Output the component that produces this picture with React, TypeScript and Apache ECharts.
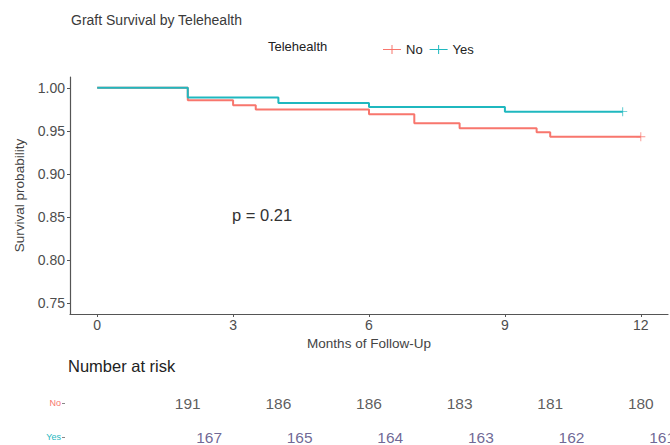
import React, { useEffect, useRef } from "react";
import * as echarts from "echarts";

const TITLE = "Graft Survival by Telehealth";
const GROUPS = ["No", "Yes"];

const noTimes = [0, 2, 3, 3.5, 6, 7, 8, 9.7, 10, 12];
const noSurv = [1.0, 0.9856, 0.9798, 0.9748, 0.9694, 0.9587, 0.9529, 0.9483, 0.9432, 0.9432];
const yesTimes = [0, 2, 4, 6, 9, 11.6];
const yesSurv = [1.0, 0.9887, 0.9824, 0.9778, 0.9723, 0.9723];

const noCensor = [12];
const yesCensor = [11.6];

const xTicks = [0, 3, 6, 9, 12];
const yTicks = [0.75, 0.8, 0.85, 0.9, 0.95, 1.0];

const riskTimes = [2, 4, 6, 8, 10, 12];
const riskNo = [191, 186, 186, 183, 181, 180];
const riskYes = [167, 165, 164, 163, 162, 161];

const PVAL = "p = 0.21";

const RED = "#F8766D";
const TEAL = "#1FB8BF";
const FONT = "Liberation Sans, Arial, sans-serif";
const YES_SHIFT = 0.47;

function survAt(times: number[], surv: number[], t: number) {
  let s = surv[0];
  for (let i = 0; i < times.length; i++) if (times[i] <= t) s = surv[i];
  return s;
}

const plusIcon = "path://M0,9h36v2h-36z M17,1h2v18h-2z";
const plusMark = "path://M0,4.5h10v1h-10z M4.5,0h1v10h-1z";

export default function App() {
  const ref = useRef<HTMLDivElement>(null);
  useEffect(() => {
    if (!ref.current) return;
    const chart = echarts.init(ref.current, undefined, { renderer: "svg" });
    const option: any = {
      animation: false,
      backgroundColor: "#ffffff",
      textStyle: { fontFamily: FONT },
      title: {
        text: TITLE,
        left: 66,
        top: 8,
        textStyle: { fontSize: 14, fontWeight: "normal", color: "#3a3a3a", fontFamily: FONT },
      },
      legend: {
        data: GROUPS,
        left: 378,
        top: 38,
        itemWidth: 18,
        itemHeight: 10,
        itemGap: 7,
        icon: plusIcon,
        textStyle: { fontSize: 13, color: "#222", fontFamily: FONT },
      },
      graphic: [
        {
          type: "text",
          left: 268,
          top: 40,
          style: { text: "Telehealth", fontSize: 13, fill: "#222", fontFamily: FONT },
        },
        {
          type: "text",
          left: 232,
          top: 206,
          style: { text: PVAL, fontSize: 16.5, fill: "#333", fontFamily: FONT },
        },
        {
          type: "text",
          left: 68,
          top: 357,
          style: { text: "Number at risk", fontSize: 16.5, fill: "#222", fontFamily: FONT },
        },
      ],
      grid: [
        { left: 70, right: 2, top: 77, bottom: 131 },
        { left: 70, right: 2, top: 403, bottom: 8 },
      ],
      xAxis: [
        {
          gridIndex: 0,
          type: "value",
          min: -0.6,
          max: 12.6,
          name: "Months of Follow-Up",
          nameLocation: "middle",
          nameGap: 19,
          nameTextStyle: { fontSize: 13.5, color: "#444", fontFamily: FONT },
          axisLine: { show: true, onZero: false, lineStyle: { color: "#555", width: 1.2 } },
          axisTick: { show: true, length: 3, customValues: xTicks, lineStyle: { color: "#555" } },
          axisLabel: { customValues: xTicks, fontSize: 14, color: "#4d4d4d", margin: 4 },
          splitLine: { show: false },
        },
        {
          gridIndex: 1,
          type: "value",
          min: -0.6,
          max: 12.6,
          show: false,
          axisLine: { onZero: false },
        },
      ],
      yAxis: [
        {
          gridIndex: 0,
          type: "value",
          min: 0.7375,
          max: 1.0125,
          name: "Survival probability",
          nameLocation: "middle",
          nameGap: 40,
          nameTextStyle: { fontSize: 13.5, color: "#444", fontFamily: FONT },
          axisLine: { show: true, onZero: false, lineStyle: { color: "#555", width: 1.2 } },
          axisTick: { show: true, length: 3, customValues: yTicks, lineStyle: { color: "#555" } },
          axisLabel: {
            customValues: yTicks,
            fontSize: 14,
            color: "#4d4d4d",
            margin: 5,
            formatter: (v: number) => v.toFixed(2),
          },
          splitLine: { show: false },
        },
        {
          gridIndex: 1,
          type: "value",
          min: 0,
          max: 1,
          interval: 1,
          offset: 5,
          axisLine: { show: false, onZero: false },
          axisTick: { show: true, length: 3, lineStyle: { color: "#888" } },
          axisLabel: {
            fontSize: 9,
            margin: 4,
            formatter: (v: number) => (v === 1 ? GROUPS[0] : GROUPS[1]),
            color: (v: any) => (Number(v) === 1 ? RED : TEAL),
          },
          splitLine: { show: false },
        },
      ],
      series: [
        {
          name: GROUPS[0],
          type: "line",
          step: "end",
          showSymbol: false,
          xAxisIndex: 0,
          yAxisIndex: 0,
          color: RED,
          lineStyle: { width: 2, color: RED },
          data: noTimes.map((t, i) => [t, noSurv[i]]),
        },
        {
          name: GROUPS[1],
          type: "line",
          step: "end",
          showSymbol: false,
          xAxisIndex: 0,
          yAxisIndex: 0,
          color: TEAL,
          lineStyle: { width: 2, color: TEAL },
          data: yesTimes.map((t, i) => [t, yesSurv[i]]),
        },
        {
          name: GROUPS[0],
          type: "scatter",
          xAxisIndex: 0,
          yAxisIndex: 0,
          symbol: plusMark,
          symbolSize: 9,
          itemStyle: { color: RED },
          data: noCensor.map((t) => [t, survAt(noTimes, noSurv, t)]),
        },
        {
          name: GROUPS[1],
          type: "scatter",
          xAxisIndex: 0,
          yAxisIndex: 0,
          symbol: plusMark,
          symbolSize: 9,
          itemStyle: { color: TEAL },
          data: yesCensor.map((t) => [t, survAt(yesTimes, yesSurv, t)]),
        },
        {
          type: "scatter",
          xAxisIndex: 1,
          yAxisIndex: 1,
          symbolSize: 1,
          itemStyle: { color: "transparent" },
          label: {
            show: true,
            position: "inside",
            fontSize: 15.5,
            color: "#333",
            fontFamily: FONT,
            formatter: (p: any) => String(p.value[2]),
          },
          data: riskTimes.map((t, i) => [t, 1, riskNo[i]]),
        },
        {
          type: "scatter",
          xAxisIndex: 1,
          yAxisIndex: 1,
          symbolSize: 1,
          itemStyle: { color: "transparent" },
          label: {
            show: true,
            position: "inside",
            fontSize: 15.5,
            color: "#4a3f7a",
            fontFamily: FONT,
            formatter: (p: any) => String(p.value[2]),
          },
          data: riskTimes.map((t, i) => [t + YES_SHIFT, 0, riskYes[i]]),
        },
      ],
    };
    chart.setOption(option);
    return () => chart.dispose();
  }, []);
  return <div ref={ref} style={{ width: 670, height: 445, position: "fixed", left: 0, top: 0 }} />;
}
